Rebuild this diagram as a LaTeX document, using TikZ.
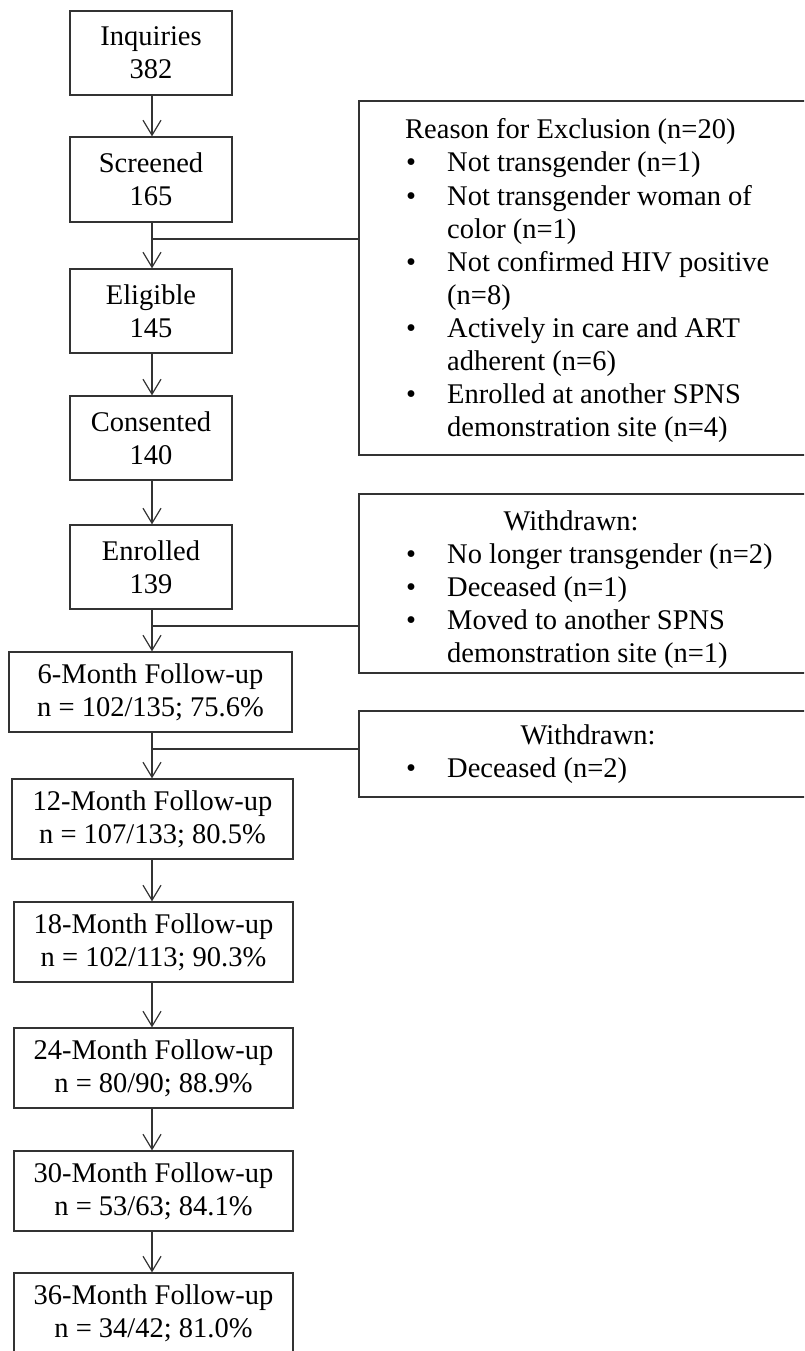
\documentclass[tikz,border=0pt]{standalone}
\usepackage{fontspec}
\setmainfont{Liberation Serif}
\usetikzlibrary{arrows.meta}
\tikzset{
  every node/.style={font=\fontsize{28.5}{33}\selectfont, text=black},
  ln/.style={draw=black!80, line width=1.2pt},
  box/.style={ln, rectangle, inner sep=0pt, align=center},
  arr/.style={ln, -{Straight Barb[length=15pt,width=18pt,line width=1.2pt]}},
  txt/.style={anchor=base west, inner sep=0pt},
  ctxt/.style={anchor=base, inner sep=0pt},
}
\begin{document}
\begin{tikzpicture}[x=1pt,y=-1pt]
\useasboundingbox (0,0) rectangle (804,1351);
\clip (0,0) rectangle (804,1351);
\coordinate (sp) at (152,0);
% main column
\node[box, minimum width=162, minimum height=84] (inq) at (151,53) {Inquiries\\382};
\node[box, minimum width=162, minimum height=85] (scr) at (151,179.5) {Screened\\165};
\node[box, minimum width=162, minimum height=84] (eli) at (151,311) {Eligible\\145};
\node[box, minimum width=162, minimum height=84] (con) at (151,438) {Consented\\140};
\node[box, minimum width=162, minimum height=84] (enr) at (151,567) {Enrolled\\139};
\node[box, minimum width=283, minimum height=80] (m6) at (150.5,692) {6-Month Follow-up\\n = 102/135; 75.6\%};
\node[box, minimum width=281, minimum height=80] (m12) at (152.5,819) {12-Month Follow-up\\n = 107/133; 80.5\%};
\node[box, minimum width=279, minimum height=80] (m18) at (153.5,942) {18-Month Follow-up\\n = 102/113; 90.3\%};
\node[box, minimum width=279, minimum height=80] (m24) at (153.5,1068) {24-Month Follow-up\\n = 80/90; 88.9\%};
\node[box, minimum width=279, minimum height=80] (m30) at (153.5,1191) {30-Month Follow-up\\n = 53/63; 84.1\%};
\node[box, minimum width=279, minimum height=80] (m36) at (153.5,1313) {36-Month Follow-up\\n = 34/42; 81.0\%};
% side boxes
\node[box, minimum width=447, minimum height=354] (exc) at (582.5,278) {};
\node[box, minimum width=447, minimum height=179] (wd1) at (582.5,583.5) {};
\node[box, minimum width=447, minimum height=86] (wd2) at (582.5,754) {};
% exclusion text
\node[txt] (e0) at (405,139) {Reason for Exclusion (n=20)};
\node[txt] (eb1) at (406,172) {\textbullet};
\node[txt] (e1) at (447,172) {Not transgender (n=1)};
\node[txt] (eb2) at (406,205) {\textbullet};
\node[txt] (e2) at (447,205) {Not transgender woman of};
\node[txt] (e2b) at (447,238) {color (n=1)};
\node[txt] (eb3) at (406,271) {\textbullet};
\node[txt] (e3) at (447,271) {Not confirmed HIV positive};
\node[txt] (e3b) at (447,304) {(n=8)};
\node[txt] (eb4) at (406,337) {\textbullet};
\node[txt] (e4) at (447,337) {Actively in care and ART};
\node[txt] (e4b) at (447,370) {adherent (n=6)};
\node[txt] (eb5) at (406,403) {\textbullet};
\node[txt] (e5) at (447,403) {Enrolled at another SPNS};
\node[txt] (e5b) at (447,436) {demonstration site (n=4)};
% withdrawn 1
\node[ctxt] (w0) at (571,530) {Withdrawn:};
\node[txt] (wb1) at (406,563) {\textbullet};
\node[txt] (w1) at (447,563) {No longer transgender (n=2)};
\node[txt] (wb2) at (406,596) {\textbullet};
\node[txt] (w2) at (447,596) {Deceased (n=1)};
\node[txt] (wb3) at (406,629) {\textbullet};
\node[txt] (w3) at (447,629) {Moved to another SPNS};
\node[txt] (w3b) at (447,662) {demonstration site (n=1)};
% withdrawn 2
\node[ctxt] (v0) at (588,744) {Withdrawn:};
\node[txt] (vb1) at (406,777) {\textbullet};
\node[txt] (v1) at (447,777) {Deceased (n=2)};
% arrows
\draw[arr] (inq.south -| sp) -- (scr.north -| sp);
\draw[arr] (scr.south -| sp) -- (eli.north -| sp);
\draw[arr] (eli.south -| sp) -- (con.north -| sp);
\draw[arr] (con.south -| sp) -- (enr.north -| sp);
\draw[arr] (enr.south -| sp) -- (m6.north -| sp);
\draw[arr] (m6.south -| sp) -- (m12.north -| sp);
\draw[arr] (m12.south -| sp) -- (m18.north -| sp);
\draw[arr] (m18.south -| sp) -- (m24.north -| sp);
\draw[arr] (m24.south -| sp) -- (m30.north -| sp);
\draw[arr] (m30.south -| sp) -- (m36.north -| sp);
% branches
\coordinate (j1) at (152,239);
\coordinate (j2) at (152,626);
\coordinate (j3) at (152,749);
\draw[ln] (j1) -- (j1 -| exc.west);
\draw[ln] (j2) -- (j2 -| wd1.west);
\draw[ln] (j3) -- (j3 -| wd2.west);
\end{tikzpicture}
\end{document}
